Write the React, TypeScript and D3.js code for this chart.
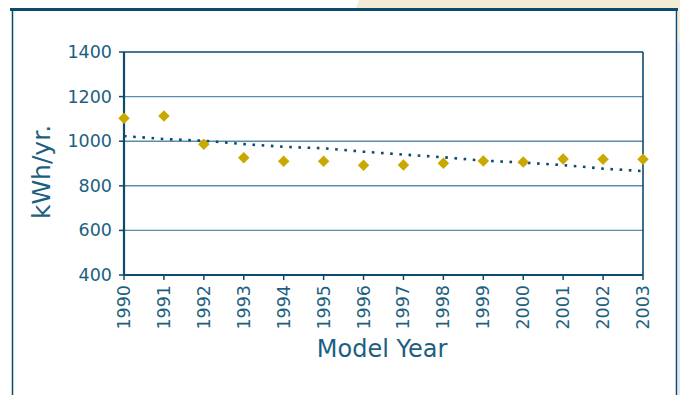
import React from "react";
import * as d3 from "d3";

const years = [1990, 1991, 1992, 1993, 1994, 1995, 1996, 1997, 1998, 1999, 2000, 2001, 2002, 2003];
const usage = [1103, 1113, 986, 926, 910, 910, 892, 893, 901, 911, 907, 920, 919, 919];
const trend = [1023, 1010, 1002, 987, 975, 968, 953, 940, 928, 913, 904, 893, 877, 866];
const yTicks = [400, 600, 800, 1000, 1200, 1400];
const yTitle = "kWh/yr.";
const xTitle = "Model Year";

const W = 680;
const H = 395;
const NAVY = "#0c4b6e";
const GRID = "#5a8dab";
const TEXT = "#1d5f80";
const GOLD = "#c9a900";
const FONT = "'DejaVu Sans', Verdana, sans-serif";

export default function App() {
  const x = d3.scaleLinear().domain([1990, 2003]).range([124, 643]);
  const y = d3.scaleLinear().domain([400, 1400]).range([275, 52]);
  const line = d3
    .line<number>()
    .x((_, i) => x(years[i]))
    .y((d) => y(d));
  const diamond = d3.symbol().type(d3.symbolDiamond2).size(84)();
  const left = x.range()[0];
  const right = x.range()[1];
  const top = y.range()[1];
  const bottom = y.range()[0];

  return (
    <svg
      width={W}
      height={H}
      style={{ position: "absolute", left: 0, top: 0, display: "block", background: "#fff" }}
    >
      {/* page decoration */}
      <polygon points="359,0 680,0 680,8 356,8" fill="#f5ecd6" />
      <rect x={678} y={8} width={2} height={H} fill="#f5ecd6" />
      <rect x={678} y={42} width={2} height={H - 42} fill="#dce7ef" />
      <line x1={10} x2={678} y1={9.5} y2={9.5} stroke={NAVY} strokeWidth={3} />
      <line x1={12.5} x2={12.5} y1={9} y2={H} stroke={NAVY} strokeWidth={1.5} />
      <line x1={676.5} x2={676.5} y1={9} y2={H} stroke={NAVY} strokeWidth={1.5} />

      {/* gridlines */}
      {yTicks
        .filter((t) => t !== 400 && t !== 1400)
        .map((t) => (
          <line key={t} x1={left} x2={right} y1={y(t)} y2={y(t)} stroke={GRID} strokeWidth={1.4} />
        ))}
      {/* frame */}
      <line x1={left} x2={right} y1={top} y2={top} stroke={NAVY} strokeWidth={1.6} />
      <line x1={right} x2={right} y1={top} y2={bottom} stroke={NAVY} strokeWidth={1.6} />
      <line x1={left} x2={left} y1={top} y2={bottom} stroke={NAVY} strokeWidth={2.2} />
      <line x1={left} x2={right} y1={bottom} y2={bottom} stroke={NAVY} strokeWidth={2.2} />

      {/* y ticks */}
      {yTicks.map((t) => (
        <g key={t}>
          <line x1={left - 5} x2={left} y1={y(t)} y2={y(t)} stroke={NAVY} strokeWidth={1.5} />
          <text
            x={112}
            y={y(t)}
            textAnchor="end"
            dominantBaseline="central"
            fontFamily={FONT}
            fontSize={17.5}
            fill={TEXT}
          >
            {t}
          </text>
        </g>
      ))}

      {/* x ticks */}
      {years.map((yr) => (
        <g key={yr}>
          <line x1={x(yr)} x2={x(yr)} y1={bottom} y2={bottom + 5} stroke={NAVY} strokeWidth={1.5} />
          <text
            transform={`translate(${x(yr)},285) rotate(-90)`}
            textAnchor="end"
            dominantBaseline="central"
            fontFamily={FONT}
            fontSize={17.5}
            fill={TEXT}
          >
            {yr}
          </text>
        </g>
      ))}

      {/* trend */}
      <path
        d={line(trend) || ""}
        fill="none"
        stroke={NAVY}
        strokeWidth={2.6}
        strokeDasharray="2.6 6.6"
      />

      {/* points */}
      {usage.map((v, i) => (
        <path key={years[i]} d={diamond || ""} transform={`translate(${x(years[i])},${y(v)})`} fill={GOLD} />
      ))}

      {/* titles */}
      <text
        transform={`translate(50,172) rotate(-90)`}
        textAnchor="middle"
        fontFamily={FONT}
        fontSize={25}
        fill={TEXT}
      >
        {yTitle}
      </text>
      <text x={382} y={357} textAnchor="middle" fontFamily={FONT} fontSize={24} fill={TEXT}>
        {xTitle}
      </text>
    </svg>
  );
}
